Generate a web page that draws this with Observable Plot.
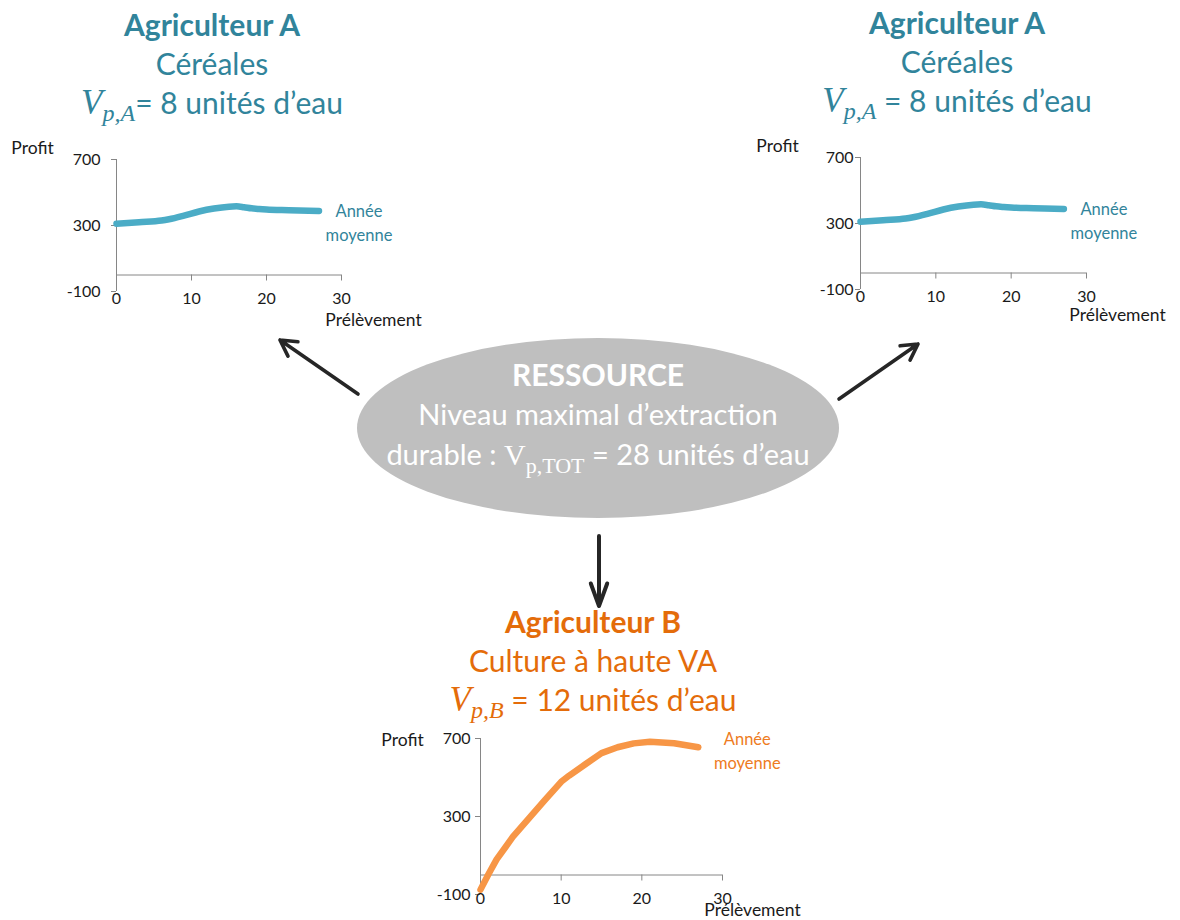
<!DOCTYPE html>
<html>
<head>
<meta charset="utf-8">
<script src="https://cdn.jsdelivr.net/npm/d3@7"></script>
<script src="https://cdn.jsdelivr.net/npm/@observablehq/plot@0.6"></script>
<style>
  body { margin: 0; background: #fff; }
  #root { position: relative; width: 1180px; height: 920px; overflow: hidden; font-family: Lato, "Open Sans", sans-serif; }
  .block { position: absolute; transform: translateX(-50%); white-space: nowrap; text-align: center; }
  .block div { height: 39px; line-height: 39px; }
  .m { font-family: "Liberation Serif", "DejaVu Serif", serif; font-style: italic; font-size: 35px; }
  .m sub { font-size: 24px; vertical-align: -7px; line-height: 0; }
  .r { font-family: "Liberation Serif", "DejaVu Serif", serif; font-size: 30px; }
  .r sub { font-size: 22px; vertical-align: -8px; line-height: 0; }
  .plot { position: absolute; }
</style>
</head>
<body>
<div id="root"></div>
<script>
// ---------- data ----------
const xTicks = [0, 10, 20, 30];
const yTicks = [-100, 300, 700];
const prelevementA = [0, 3, 6, 7, 9, 11, 13, 15, 16, 17, 18, 19, 20, 23, 27];
const profitA      = [310, 320, 330, 338, 360, 385, 403, 414, 416, 411, 404, 400, 397, 393, 388];
const prelevementB = [0, 1, 2, 4, 6, 8, 10, 11, 13, 15, 17, 19, 21, 24, 27];
const profitB      = [-75, 5, 80, 195, 290, 385, 478, 510, 568, 625, 655, 675, 683, 676, 655];
const labelAnnee = "Année\nmoyenne";
const axisLabelY = "Profit";
const axisLabelX = "Prélèvement";
const titleA = ["Agriculteur A", "Céréales"];
const titleB = ["Agriculteur B", "Culture à haute VA"];
const ressource = ["RESSOURCE", "Niveau maximal d’extraction", "durable : ", " = 28 unités d’eau"];

// ---------- styles ----------
const TEAL = "#31849b", TEAL_LINE = "#4bacc6";
const ORANGE = "#e46c0a", ORANGE_LINE = "#f79646", ORANGE_TXT = "#ee7b22";
const AXIS = "#868686", TXT = "#1a1a1a";
const root = document.getElementById("root");

// ---------- diagram shapes (ellipse + arrows) ----------
const NS = "http://www.w3.org/2000/svg";
const svg = document.createElementNS(NS, "svg");
svg.setAttribute("width", 1180); svg.setAttribute("height", 920);
svg.style.position = "absolute"; svg.style.left = "0"; svg.style.top = "0";
root.appendChild(svg);
function el(name, attrs) {
  const e = document.createElementNS(NS, name);
  for (const k in attrs) e.setAttribute(k, attrs[k]);
  svg.appendChild(e); return e;
}
el("ellipse", {cx: 598, cy: 428, rx: 241, ry: 90, fill: "#bfbfbf"});
function arrow(x1, y1, x2, y2, len, angDeg, w) {
  const a = Math.atan2(y1 - y2, x1 - x2), t = angDeg * Math.PI / 180;
  const p1 = [x2 + len * Math.cos(a + t), y2 + len * Math.sin(a + t)];
  const p2 = [x2 + len * Math.cos(a - t), y2 + len * Math.sin(a - t)];
  el("path", {d: `M${x1},${y1}L${x2},${y2}M${p1[0]},${p1[1]}L${x2},${y2}L${p2[0]},${p2[1]}`,
    fill: "none", stroke: "#262626", "stroke-width": w, "stroke-linecap": "round", "stroke-linejoin": "round"});
}
arrow(358, 394, 280, 340, 18, 29, 3.6);
arrow(839, 399, 918, 344, 18, 29, 3.6);
arrow(599, 536, 599, 606, 24, 20, 4);

// ---------- titles ----------
function titleBlock(cx, top, color, lines, sub, rest) {
  const d = document.createElement("div");
  d.className = "block";
  d.style.left = cx + "px"; d.style.top = top + "px"; d.style.color = color;
  d.style.fontSize = "30px";
  d.innerHTML = `<div style="font-weight:700">${lines[0]}</div><div>${lines[1]}</div>` +
    `<div><span class="m">V<sub>${sub}</sub></span>${rest}</div>`;
  root.appendChild(d);
}
titleBlock(212, 5, TEAL, titleA, "p,A", "= 8 unités d’eau");
titleBlock(957, 3, TEAL, titleA, "p,A", " = 8 unités d’eau");
titleBlock(593, 602, ORANGE, titleB, "p,B", " = 12 unités d’eau");

const res = document.createElement("div");
res.className = "block";
res.style.left = "598px"; res.style.top = "354px"; res.style.color = "#fff"; res.style.fontSize = "29px";
res.innerHTML = `<div style="height:40px;line-height:40px;font-weight:700;font-size:30px">${ressource[0]}</div>` +
  `<div style="height:40px;line-height:40px">${ressource[1]}</div>` +
  `<div style="height:40px;line-height:40px">${ressource[2]}<span class="r">V<sub>p,TOT</sub></span>${ressource[3]}</div>`;
root.appendChild(res);

// ---------- charts ----------
function chart(cfg) {
  const data = cfg.xs.map((x, i) => ({x, y: cfg.ys[i]}));
  const last = data[data.length - 1];
  const p = Plot.plot({
    width: cfg.w, height: cfg.h,
    marginLeft: cfg.ml, marginRight: cfg.mr, marginTop: cfg.mt, marginBottom: cfg.mb,
    x: {domain: [0, 30]},
    y: {domain: [-100, 700]},
    style: {fontFamily: "Lato, sans-serif", fontSize: "16px", color: TXT, background: "transparent", overflow: "visible"},
    marks: [
      Plot.ruleX([0], {y1: -100, y2: 700, stroke: AXIS, strokeWidth: 1}),
      Plot.ruleY([0], {x1: 0, x2: 30, stroke: AXIS, strokeWidth: 1}),
      Plot.ruleX(xTicks, {x: d => d, y1: 0, y2: 0, insetBottom: -6, stroke: AXIS}),
      Plot.axisY({ticks: yTicks, tickSize: 5, tickPadding: cfg.yPad - 5, tickFormat: d => String(d), stroke: AXIS, fill: TXT, label: null}),
      Plot.axisX({ticks: xTicks, tickSize: 0, tickPadding: cfg.xPad, tickFormat: d => String(d), fill: TXT, label: null}),
      Plot.line(data, {x: "x", y: "y", stroke: cfg.color, strokeWidth: 6.5, curve: cfg.curve, strokeLinecap: "round", strokeLinejoin: "round"}),
      Plot.text([last], {x: "x", y: "y", text: () => labelAnnee, fill: cfg.labelColor, dx: cfg.ldx, dy: cfg.ldy,
        textAnchor: "middle", lineAnchor: "middle", lineHeight: 1.45, fontSize: 16.5}),
      Plot.text([axisLabelY], {frameAnchor: "top-left", text: d => d, dx: cfg.pdx, dy: cfg.pdy, textAnchor: "middle", lineAnchor: "middle", fontSize: 17.5, fill: TXT}),
      Plot.text([axisLabelX], {frameAnchor: "bottom-right", text: d => d, dx: cfg.xdx, dy: cfg.xdy, textAnchor: "middle", lineAnchor: "middle", fontSize: 17.5, fill: TXT})
    ]
  });
  p.classList.add("plot");
  p.style.left = cfg.left + "px"; p.style.top = cfg.top + "px";
  root.appendChild(p);
}
chart({left: 0, top: 130, w: 440, h: 200, ml: 116, mr: 99, mt: 29, mb: 39,
  xs: prelevementA, ys: profitA, color: TEAL_LINE, labelColor: TEAL, curve: "monotone-x",
  yPad: 16, xPad: 1, ldx: 40, ldy: 10, pdx: -84, pdy: -11, xdx: 32, xdy: 29});
chart({left: 740, top: 130, w: 440, h: 200, ml: 120, mr: 94, mt: 27, mb: 41,
  xs: prelevementA, ys: profitA, color: TEAL_LINE, labelColor: TEAL, curve: "monotone-x",
  yPad: 7, xPad: 1, ldx: 40, ldy: 10, pdx: -83, pdy: -11, xdx: 31, xdy: 26});
chart({left: 370, top: 720, w: 440, h: 200, ml: 110, mr: 88, mt: 18, mb: 26,
  xs: prelevementB, ys: profitB, color: ORANGE_LINE, labelColor: ORANGE_TXT, curve: "linear",
  yPad: 10, xPad: -2, ldx: 49, ldy: 2, pdx: -78, pdy: 2, xdx: 30, xdy: 16});
</script>
</body>
</html>
